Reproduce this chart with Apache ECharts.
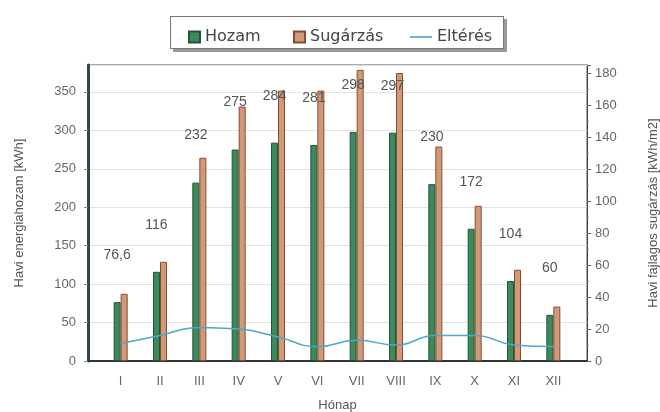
<!DOCTYPE html>
<html>
<head>
<meta charset="utf-8">
<script src="https://cdn.jsdelivr.net/npm/echarts@6/dist/echarts.min.js"></script>
<style>
  html, body { margin: 0; padding: 0; background: #fff; }
  #chart { width: 660px; height: 412px; }
  .legend-box {
    position: absolute; left: 170px; top: 16px; width: 332px; height: 31px;
    border: 1px solid #777; box-shadow: 3px 3px 0 #999; background: #fff;
  }
</style>
</head>
<body>
<div class="legend-box"></div>
<div id="chart" style="position:absolute;left:0;top:0"></div>
<script>
  const months = ['I', 'II', 'III', 'IV', 'V', 'VI', 'VII', 'VIII', 'IX', 'X', 'XI', 'XII']
  const hozam = [76.6, 116, 232, 275, 284, 281, 298, 297, 230, 172, 104, 60]
  const sugarzas = [42, 62, 127, 159, 169, 169, 182, 180, 134, 97, 57, 34]
  const elteres = [11, 16, 21, 20, 15, 9, 13, 10, 16, 16, 10, 9]

  const chart = echarts.init(document.getElementById('chart'))
  const font = 'Liberation Sans, Arial, sans-serif'
  const legendText = { fontSize: 16, color: '#444', fontFamily: 'DejaVu Sans' }

  // grid 0 = frame + y axes, grid 1 = bars (narrower, like the original)
  const option = {
    animation: false,
    textStyle: { fontFamily: font },
    legend: [
      {
        top: 24, left: 183, itemWidth: 11, itemHeight: 11, itemGap: 6,
        textStyle: legendText,
        data: [{ name: 'Hozam', icon: 'rect' }]
      },
      {
        top: 24, left: 288, itemWidth: 11, itemHeight: 11, itemGap: 6,
        textStyle: legendText,
        data: [{ name: 'Sugárzás', icon: 'rect' }]
      },
      {
        top: 24, left: 405, itemWidth: 22, itemHeight: 11, itemGap: 4,
        textStyle: legendText,
        data: [{ name: 'Eltérés', icon: 'path://M0,5 L20,5 L20,6.5 L0,6.5 Z' }]
      }
    ],
    grid: [
      { left: 88, right: 73, top: 65, bottom: 51, outerBoundsMode: 'none' },
      { left: 101, right: 87, top: 65, bottom: 51, outerBoundsMode: 'none' }
    ],
    xAxis: [
      {
        type: 'category',
        gridIndex: 0,
        data: months,
        name: 'Hónap',
        nameLocation: 'middle',
        nameGap: 38,
        nameTextStyle: { fontSize: 13, color: '#555' },
        axisLine: { lineStyle: { color: '#333', width: 2 } },
        axisTick: { show: false },
        axisLabel: { show: false }
      },
      {
        type: 'category',
        gridIndex: 1,
        data: months,
        axisLine: { show: false },
        axisTick: { show: false },
        axisLabel: { fontSize: 13, color: '#666', margin: 14 }
      }
    ],
    yAxis: [
      {
        type: 'value',
        gridIndex: 0,
        min: 0,
        max: 385,
        interval: 50,
        name: 'Havi energiahozam [kWh]',
        nameLocation: 'middle',
        nameGap: 62,
        nameTextStyle: { fontSize: 13, color: '#555' },
        axisLine: { show: true, lineStyle: { color: '#2f4a3a', width: 3 } },
        axisTick: { show: true, length: 4, lineStyle: { color: '#888' } },
        axisLabel: { fontSize: 13, color: '#666', showMaxLabel: false, margin: 12 },
        splitLine: { lineStyle: { color: '#e2e2e2' } }
      },
      {
        type: 'value',
        gridIndex: 0,
        min: 0,
        max: 185,
        interval: 20,
        name: 'Havi fajlagos sugárzás [kWh/m2]',
        nameLocation: 'middle',
        nameGap: 60,
        nameTextStyle: { fontSize: 13, color: '#555' },
        axisLine: { show: true, lineStyle: { color: '#444', width: 1 } },
        axisTick: { show: true, length: 4, lineStyle: { color: '#666' } },
        minorTick: { show: true, splitNumber: 2, length: 2, lineStyle: { color: '#888' } },
        axisLabel: { fontSize: 13, color: '#666', showMaxLabel: false, margin: 8 },
        splitLine: { show: false }
      },
      { type: 'value', gridIndex: 1, min: 0, max: 385, show: false },
      { type: 'value', gridIndex: 1, min: 0, max: 185, show: false }
    ],
    series: [
      {
        name: 'Hozam',
        type: 'bar',
        xAxisIndex: 1,
        yAxisIndex: 2,
        barWidth: 7,
        barGap: '0%',
        itemStyle: { color: '#3c8a5b', borderColor: '#22553a', borderWidth: 1 },
        label: {
          show: true,
          position: 'top',
          distance: 40,
          fontSize: 14,
          color: '#555',
          formatter: p => String(p.value).replace('.', ',')
        },
        data: hozam
      },
      {
        name: 'Sugárzás',
        type: 'bar',
        xAxisIndex: 1,
        yAxisIndex: 3,
        barWidth: 7,
        itemStyle: { color: '#cf9a78', borderColor: '#8a4a30', borderWidth: 1 },
        data: sugarzas
      },
      {
        name: 'Eltérés',
        type: 'line',
        xAxisIndex: 1,
        yAxisIndex: 3,
        smooth: true,
        symbol: 'none',
        lineStyle: { color: '#4fa6cc', width: 1.5 },
        itemStyle: { color: '#4fa6cc' },
        data: elteres,
        z: 5
      }
    ],
    graphic: [
      {
        type: 'rect',
        shape: { x: 88, y: 65, width: 499, height: 296 },
        style: { fill: 'none', stroke: '#555', lineWidth: 1 },
        silent: true
      }
    ]
  }
  chart.setOption(option)
</script>
</body>
</html>
